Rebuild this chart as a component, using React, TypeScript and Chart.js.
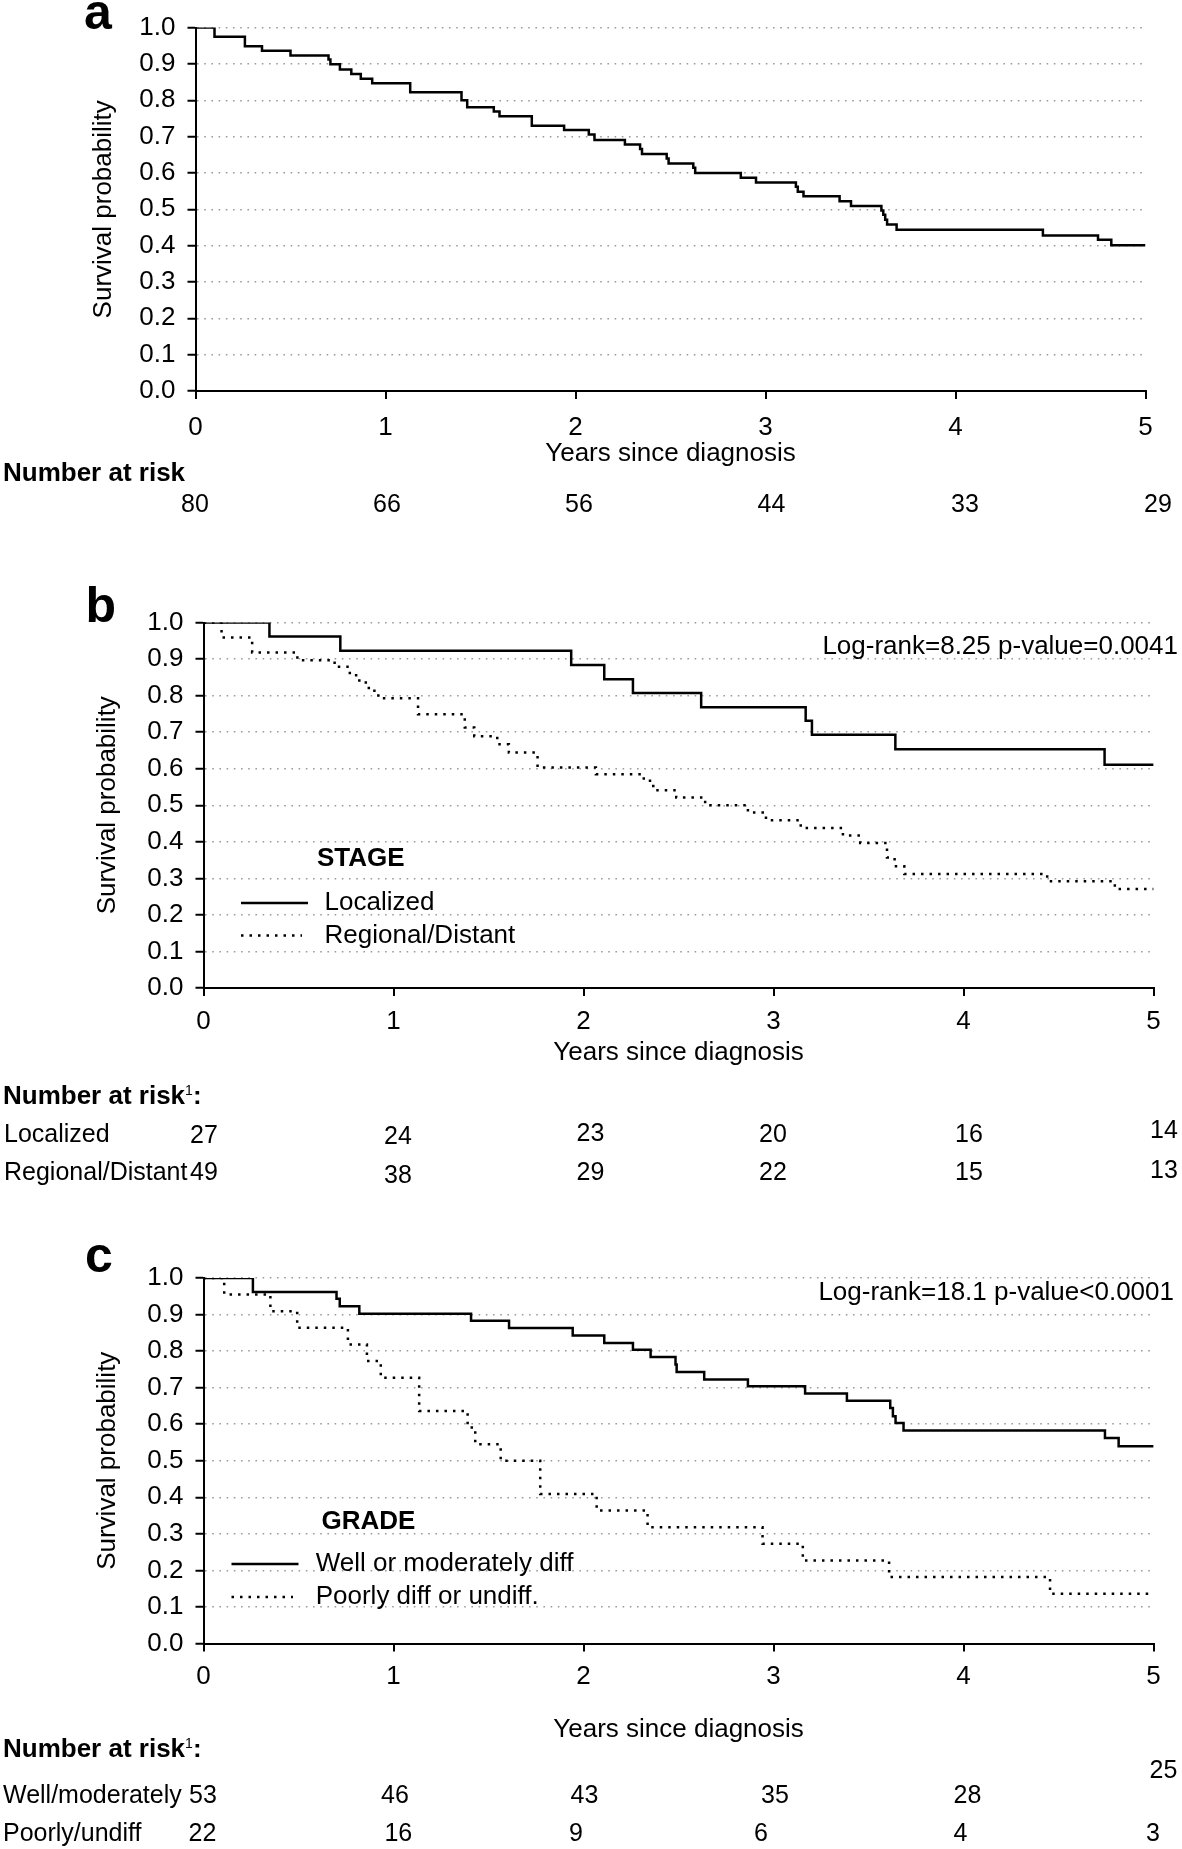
import React, { useEffect, useRef } from 'react';
import { Chart, registerables } from 'chart.js';

Chart.register(...registerables);

const FONT = "'Liberation Sans', Arial, Helvetica, sans-serif";

// ---------------- DATA ----------------
// Panel a: all patients (time in years, survival after each drop)
const allTimes = [0, 0.10, 0.26, 0.35, 0.50, 0.70, 0.71, 0.76, 0.82, 0.87, 0.93, 1.13, 1.40, 1.43, 1.57, 1.60, 1.77, 1.94, 2.07, 2.10, 2.26, 2.34, 2.35, 2.48, 2.49, 2.62, 2.63, 2.87, 2.95, 3.16, 3.17, 3.20, 3.39, 3.45, 3.61, 3.62, 3.63, 3.64, 3.69, 4.46, 4.75, 4.82, 5.0];
const allSurv = [1.0, 0.975, 0.949, 0.936, 0.923, 0.912, 0.899, 0.885, 0.872, 0.859, 0.847, 0.822, 0.80, 0.781, 0.769, 0.756, 0.730, 0.718, 0.706, 0.691, 0.678, 0.666, 0.652, 0.640, 0.626, 0.614, 0.600, 0.587, 0.574, 0.562, 0.548, 0.536, 0.522, 0.509, 0.497, 0.485, 0.471, 0.458, 0.444, 0.428, 0.416, 0.401, 0.401];

// Panel b: stage
const localizedTimes = [0, 0.347, 0.72, 1.935, 2.109, 2.26, 2.619, 3.169, 3.202, 3.641, 4.742, 5.0];
const localizedSurv = [1.0, 0.962, 0.923, 0.884, 0.845, 0.807, 0.768, 0.731, 0.693, 0.653, 0.611, 0.611];
const regionalTimes = [0, 0.095, 0.256, 0.494, 0.69, 0.77, 0.82, 0.87, 0.92, 1.129, 1.375, 1.425, 1.546, 1.607, 1.758, 2.065, 2.317, 2.367, 2.488, 2.64, 2.865, 2.96, 3.143, 3.365, 3.456, 3.597, 3.637, 3.688, 4.44, 4.796, 5.0];
const regionalSurv = [1.0, 0.959, 0.918, 0.897, 0.879, 0.856, 0.836, 0.813, 0.793, 0.749, 0.713, 0.689, 0.667, 0.644, 0.603, 0.585, 0.567, 0.541, 0.521, 0.500, 0.480, 0.459, 0.438, 0.417, 0.397, 0.357, 0.333, 0.312, 0.292, 0.271, 0.271];

// Panel c: grade
const wellTimes = [0, 0.26, 0.70, 0.717, 0.82, 1.408, 1.608, 1.943, 2.109, 2.26, 2.353, 2.484, 2.49, 2.635, 2.865, 3.166, 3.386, 3.614, 3.628, 3.642, 3.684, 4.744, 4.816, 5.0];
const wellSurv = [1.0, 0.962, 0.943, 0.923, 0.902, 0.883, 0.863, 0.843, 0.822, 0.804, 0.784, 0.763, 0.743, 0.722, 0.704, 0.684, 0.664, 0.644, 0.622, 0.603, 0.583, 0.562, 0.540, 0.540];
const poorTimes = [0, 0.109, 0.352, 0.493, 0.76, 0.86, 0.933, 1.135, 1.39, 1.43, 1.564, 1.772, 2.069, 2.337, 2.942, 3.154, 3.608, 4.455, 5.0];
const poorSurv = [1.0, 0.955, 0.909, 0.864, 0.818, 0.773, 0.727, 0.636, 0.591, 0.545, 0.5, 0.409, 0.364, 0.318, 0.273, 0.227, 0.182, 0.136, 0.136];

// Numbers at risk (years 0..5)
const riskAll = [80, 66, 56, 44, 33, 29];
const riskLocalized = [27, 24, 23, 20, 16, 14];
const riskRegional = [49, 38, 29, 22, 15, 13];
const riskWell = [53, 46, 43, 35, 28, 25];
const riskPoor = [22, 16, 9, 6, 4, 3];

// Axis ranges / labels
const xMin = 0, xMax = 5, xStep = 1;
const yMin = 0, yMax = 1, yStep = 0.1;
const xTitle = 'Years since diagnosis';
const yTitle = 'Survival probability';
const logRankStage = 'Log-rank=8.25 p-value=0.0041';
const logRankGrade = 'Log-rank=18.1 p-value<0.0001';

// ---------------- LAYOUT ----------------
const W = 1182;

const PANELS = [
  {
    id: 'a', top: 0, height: 545,
    area: { left: 195.5, right: 1145.5, top: 25, bottom: 391 },
    xTitleY: 454, yTitleX: 104, tickPad: 13,
    series: [{ label: 'All', t: allTimes, s: allSurv, dotted: false }],
    legend: null as any,
  },
  {
    id: 'b', top: 560, height: 640,
    area: { left: 203.5, right: 1153.6, top: 622.5, bottom: 988 },
    xTitleY: 1053, yTitleX: 108, tickPad: 10,
    series: [
      { label: 'Localized', t: localizedTimes, s: localizedSurv, dotted: false },
      { label: 'Regional/Distant', t: regionalTimes, s: regionalSurv, dotted: true },
    ],
    legend: { title: 'STAGE', titleX: 317, titleY: 858.5, x1: 241, x2: [308, 302], textX: 324.5, rowY: [903, 935.5] },
  },
  {
    id: 'c', top: 1210, height: 639,
    area: { left: 203.5, right: 1153.6, top: 1278, bottom: 1643.5 },
    xTitleY: 1730, yTitleX: 108, tickPad: 10,
    series: [
      { label: 'Well or moderately diff', t: wellTimes, s: wellSurv, dotted: false },
      { label: 'Poorly diff or undiff.', t: poorTimes, s: poorSurv, dotted: true },
    ],
    legend: { title: 'GRADE', titleX: 321.5, titleY: 1522, x1: 231.5, x2: [298.5, 293], textX: 315.7, rowY: [1564, 1597] },
  },
];

const kmLegend = {
  id: 'kmLegend',
  afterDatasetsDraw(chart: any, _args: any, opts: any) {
    if (!opts || !opts.title) return;
    const ctx = chart.ctx;
    const off = opts.canvasTop || 0;
    ctx.save();
    ctx.fillStyle = '#000';
    ctx.textBaseline = 'middle';
    ctx.textAlign = 'left';
    ctx.font = `bold 26px ${FONT}`;
    ctx.fillText(opts.title, opts.titleX, opts.titleY - off);
    ctx.font = `26px ${FONT}`;
    chart.data.datasets.forEach((ds: any, i: number) => {
      const y = opts.rowY[i] - off;
      ctx.save();
      ctx.strokeStyle = ds.borderColor;
      ctx.lineWidth = ds.borderWidth;
      ctx.setLineDash(ds.borderDash || []);
      ctx.beginPath();
      ctx.moveTo(opts.x1, y);
      ctx.lineTo(opts.x2[i], y);
      ctx.stroke();
      ctx.restore();
      ctx.fillText(ds.label, opts.textX, y);
    });
    ctx.restore();
  },
};

function KMPanel({ cfg }: { cfg: any }) {
  const ref = useRef<HTMLCanvasElement>(null);
  useEffect(() => {
    const a = cfg.area;
    const half = (26 * 1.2) / 2;
    const xH = cfg.xTitleY - a.bottom + half;
    const padTop = a.top - cfg.top;
    const padBottom = cfg.height - (a.bottom - cfg.top) - xH;
    const chart = new Chart(ref.current as HTMLCanvasElement, {
      type: 'line',
      data: {
        datasets: cfg.series.map((s: any) => ({
          label: s.label,
          data: s.t.map((t: number, i: number) => ({ x: t, y: s.s[i] })),
          stepped: 'before',
          borderColor: '#000',
          borderWidth: 2.5,
          borderDash: s.dotted ? [2.5, 6] : [],
          borderCapStyle: 'butt',
          borderJoinStyle: 'miter',
          pointRadius: 0,
          pointHoverRadius: 0,
          fill: false,
          tension: 0,
        })),
      },
      options: {
        animation: false,
        responsive: false,
        devicePixelRatio: 1,
        events: [],
        layout: { padding: { left: 0, right: W - a.right, top: padTop, bottom: padBottom } },
        plugins: {
          legend: { display: false },
          tooltip: { enabled: false },
          kmLegend: cfg.legend ? { ...cfg.legend, canvasTop: cfg.top } : {},
        } as any,
        scales: {
          x: {
            type: 'linear',
            min: xMin,
            max: xMax,
            ticks: { stepSize: xStep, color: '#000', font: { family: FONT, size: 26 }, padding: cfg.tickPad, maxRotation: 0 },
            grid: { drawOnChartArea: false, drawTicks: true, tickLength: 8, tickColor: '#000', tickWidth: 2, color: '#000', lineWidth: 2 },
            border: { display: true, color: '#000', width: 2 },
            title: { display: true, text: xTitle, color: '#000', font: { family: FONT, size: 26 }, padding: { top: 0, bottom: 0 } },
            afterFit: (scale: any) => { scale.height = xH; },
          },
          y: {
            type: 'linear',
            min: yMin,
            max: yMax,
            ticks: {
              stepSize: yStep,
              color: '#000',
              font: { family: FONT, size: 26 },
              padding: 12,
              callback: (v: any) => Number(v).toFixed(1),
            },
            grid: { color: '#9c9c9c', lineWidth: 1.5, tickLength: 8, tickColor: '#000', tickWidth: 2 },
            border: { display: true, color: '#000', width: 2, dash: [1.6, 5.6] },
            title: { display: true, text: yTitle, color: '#000', font: { family: FONT, size: 26 }, padding: { top: cfg.yTitleX - half, bottom: 0 } },
            afterFit: (scale: any) => { scale.width = a.left; },
          },
        },
      } as any,
      plugins: [kmLegend as any],
    });
    return () => chart.destroy();
  }, []);
  return (
    <canvas
      ref={ref}
      width={W}
      height={cfg.height}
      style={{ position: 'absolute', left: 0, top: cfg.top, width: W, height: cfg.height, display: 'block' }}
    />
  );
}

function Txt({ x, y, size = 26, bold = false, right = false, children }: any) {
  const style: any = {
    position: 'absolute',
    top: y - 0.4885 * size,
    fontSize: size,
    lineHeight: `${size}px`,
    fontWeight: bold ? 'bold' : 'normal',
    whiteSpace: 'nowrap',
    fontFamily: FONT,
    color: '#000',
  };
  if (right) style.right = W - x; else style.left = x;
  return <div style={style}>{children}</div>;
}

const Sup = () => (
  <span style={{ fontSize: 14, fontWeight: 'normal', position: 'relative', top: -9 }}>1</span>
);

// at-risk table layout
const colA = [181, 373, 565, 757.6, 951, 1144];
const colB = [190, 384, 576.5, 759, 955, 1150];
const rowYLocalized = [1134, 1135.5, 1132.5, 1133, 1133, 1129];
const rowYRegional = [1171, 1174, 1171, 1171, 1171, 1169];
const colWell = [189, 381, 570.6, 761, 953.6, 1149.5];
const rowYWell = [1794, 1794, 1794, 1794, 1794, 1769];
const colPoor = [188.5, 384.4, 569, 754, 953.6, 1146];

export default function App() {
  return (
    <div style={{ position: 'absolute', left: 0, top: 0, width: W, height: 1849, background: '#fff', overflow: 'hidden', fontFamily: FONT }}>
      {PANELS.map((p) => <KMPanel key={p.id} cfg={p} />)}

      {/* panel letters */}
      <div style={{ position: 'absolute', left: 84, top: -13.3, fontSize: 50, lineHeight: '50px', fontWeight: 'bold', fontFamily: FONT }}>a</div>
      <div style={{ position: 'absolute', left: 85.5, top: 579.7, fontSize: 50, lineHeight: '50px', fontWeight: 'bold', fontFamily: FONT }}>b</div>
      <div style={{ position: 'absolute', left: 85, top: 1229.7, fontSize: 50, lineHeight: '50px', fontWeight: 'bold', fontFamily: FONT }}>c</div>

      {/* log-rank annotations */}
      <Txt x={1178} y={645} right>{logRankStage}</Txt>
      <Txt x={1174} y={1291} right>{logRankGrade}</Txt>

      {/* panel a at-risk */}
      <Txt x={3} y={472} bold>Number at risk</Txt>
      {riskAll.map((v, i) => <Txt key={'a' + i} x={colA[i]} y={503} size={25}>{v}</Txt>)}

      {/* panel b at-risk */}
      <Txt x={3} y={1095} bold>Number at risk<Sup />:</Txt>
      <Txt x={4} y={1133.6} size={25}>Localized</Txt>
      <Txt x={4} y={1171.3} size={25}>Regional/Distant</Txt>
      {riskLocalized.map((v, i) => <Txt key={'bl' + i} x={colB[i]} y={rowYLocalized[i]} size={25}>{v}</Txt>)}
      {riskRegional.map((v, i) => <Txt key={'br' + i} x={colB[i]} y={rowYRegional[i]} size={25}>{v}</Txt>)}

      {/* panel c at-risk */}
      <Txt x={3} y={1748} bold>Number at risk<Sup />:</Txt>
      <Txt x={3} y={1794} size={25}>Well/moderately</Txt>
      <Txt x={3} y={1832} size={25}>Poorly/undiff</Txt>
      {riskWell.map((v, i) => <Txt key={'cw' + i} x={colWell[i]} y={rowYWell[i]} size={25}>{v}</Txt>)}
      {riskPoor.map((v, i) => <Txt key={'cp' + i} x={colPoor[i]} y={1832} size={25}>{v}</Txt>)}
    </div>
  );
}
